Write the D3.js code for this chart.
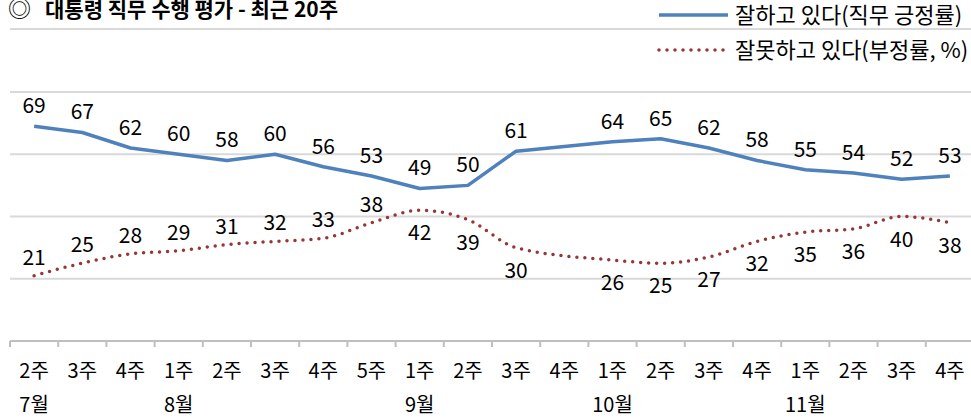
<!DOCTYPE html>
<html><head><meta charset="utf-8">
<script src="https://cdn.jsdelivr.net/npm/d3@7"></script>
<style>
body{margin:0;background:#fff;overflow:hidden}
text{font-family:"Noto Sans CJK KR","Noto Sans",sans-serif;fill:#000}
</style></head>
<body><div id="container"></div>
<script>
// Hard Code values ---------- ---------- ----------
let canvasW = 971, canvasH = 418;
let titleMark = "◎", title = "대통령 직무 수행 평가 - 최근 20주";
let weeks = ["2주","3주","4주","1주","2주","3주","4주","5주","1주","2주","3주","4주","1주","2주","3주","4주","1주","2주","3주","4주"];
let months = ["7월","","","8월","","","","","9월","","","","10월","","","","11월","","",""];
let positive = [69,67,62,60,58,60,56,53,49,50,61,null,64,65,62,58,55,54,52,53];
let negative = [21,25,28,29,31,32,33,38,42,39,30,null,26,25,27,32,35,36,40,38];
let gridVals = [20,40,60,80];
let legendNames = ["잘하고 있다(직무 긍정률)","잘못하고 있다(부정률, %)"];
let blue = "#4F81BD", red = "#953735";

let svg = d3.select("#container").append("svg").attr("width", canvasW).attr("height", canvasH);

// scales
let xScale = d3.scaleBand().domain(d3.range(weeks.length)).range([10, 974]);
let yScale = d3.scaleLinear().domain([0, 80]).range([341, 92]);
let cx = i => xScale(i) + xScale.bandwidth()/2;

// title + rule
svg.append("text").attr("x", 8).attr("y", 17).attr("font-size", 23).text(titleMark);
svg.append("text").attr("x", 45).attr("y", 17).attr("font-size", 21).attr("font-weight", "bold").text(title);
svg.append("line").attr("x1", 10).attr("x2", canvasW).attr("y1", 29).attr("y2", 29).attr("stroke", "#d9d9d9").attr("stroke-width", 2);

// gridlines
svg.selectAll(".grid").data(gridVals).enter().append("line")
    .attr("x1", 10).attr("x2", canvasW).attr("y1", d=>yScale(d)).attr("y2", d=>yScale(d))
    .attr("stroke", "#d9d9d9").attr("stroke-width", 2);

// x axis
let xAxis = svg.append("g").attr("transform", "translate(0,"+yScale(0)+")")
    .call(d3.axisBottom(xScale).tickSize(0).tickFormat(""));
xAxis.select(".domain").attr("stroke", "#bfbfbf").attr("stroke-width", 2).attr("d", "M10,0H"+canvasW);
svg.selectAll(".tickmark").data(d3.range(weeks.length+1)).enter().append("line")
    .attr("x1", i=>xScale.step()*i+10).attr("x2", i=>xScale.step()*i+10)
    .attr("y1", yScale(0)).attr("y2", yScale(0)+6).attr("stroke", "#bfbfbf").attr("stroke-width", 2);
svg.selectAll(".wk").data(weeks).enter().append("text")
    .attr("x", (d,i)=>cx(i)).attr("y", 378).attr("text-anchor", "middle").attr("font-size", 20).text(d=>d);
svg.selectAll(".mo").data(months).enter().append("text")
    .attr("x", (d,i)=>cx(i)).attr("y", 412).attr("text-anchor", "middle").attr("font-size", 20).text(d=>d);

// lines
let posPts = positive.map((v,i)=>[i,v]).filter(d=>d[1]!=null);
let negPts = negative.map((v,i)=>[i,v]).filter(d=>d[1]!=null);
svg.append("path").datum(posPts).attr("fill", "none").attr("stroke", blue).attr("stroke-width", 3.5)
    .attr("stroke-linejoin", "round")
    .attr("d", d3.line().x(d=>cx(d[0])).y(d=>yScale(d[1])));
svg.append("path").datum(negPts).attr("fill", "none").attr("stroke", red).attr("stroke-width", 3.5)
    .attr("stroke-linecap", "round").attr("stroke-dasharray", "0 8")
    .attr("d", d3.line().x(d=>cx(d[0])).y(d=>yScale(d[1])).curve(d3.curveMonotoneX));

// labels
svg.selectAll(".pl").data(posPts).enter().append("text")
    .attr("x", d=>cx(d[0])).attr("y", d=>yScale(d[1])-13).attr("text-anchor", "middle").attr("font-size", 21).text(d=>d[1]);
svg.selectAll(".nl").data(negPts).enter().append("text")
    .attr("x", d=>cx(d[0])).attr("y", d=>d[0]<8 ? yScale(d[1])-11 : yScale(d[1])+30)
    .attr("text-anchor", "middle").attr("font-size", 21).text(d=>d[1]);

// legend
svg.append("line").attr("x1", 659).attr("x2", 728).attr("y1", 15).attr("y2", 15).attr("stroke", blue).attr("stroke-width", 3.5);
svg.append("line").attr("x1", 659).attr("x2", 728).attr("y1", 50).attr("y2", 50).attr("stroke", red).attr("stroke-width", 3.5)
    .attr("stroke-linecap", "round").attr("stroke-dasharray", "0 8");
svg.selectAll(".lg").data(legendNames).enter().append("text")
    .attr("x", 735).attr("y", (d,i)=>23+i*35).attr("font-size", 22).text(d=>d);
</script></body></html>
